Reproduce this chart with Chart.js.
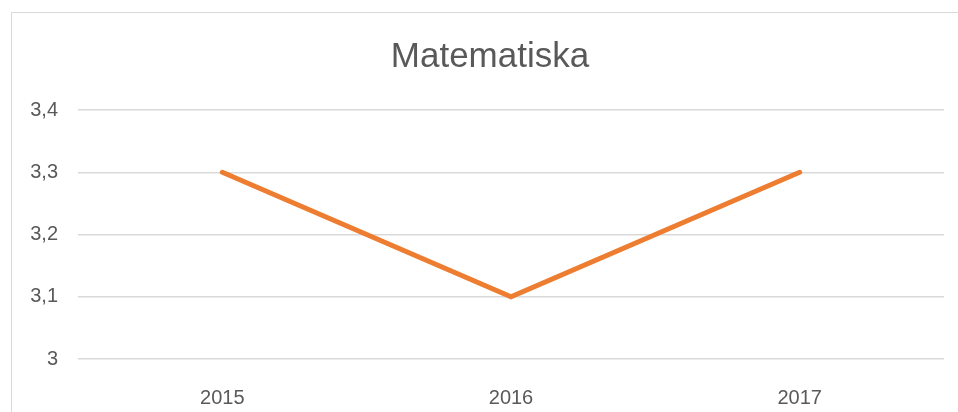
<!DOCTYPE html>
<html>
<head>
<meta charset="utf-8">
<script src="https://cdn.jsdelivr.net/npm/chart.js@4"></script>
<style>
  body { margin: 0; background: #fff; }
  #ram { position: absolute; left: 11px; top: 12px; width: 960px; height: 420px; border: 1px solid #d9d9d9; }
  #graf { position: absolute; left: 0; top: 0; }
</style>
</head>
<body>
<div id="ram"></div>
<canvas id="graf" width="958" height="412"></canvas>
<script>
const ar = ['2015', '2016', '2017'];
const varden = [3.3, 3.1, 3.3];
const yTicks = [3, 3.1, 3.2, 3.3, 3.4];

const textFarg = '#595959';

// flytta titeln lite åt höger, som i originalet
const titelFlytt = {
  id: 'titelFlytt',
  afterLayout: c => { if (c.titleBlock) c.titleBlock.left += 36; }
};

const ctx = document.getElementById('graf');
new Chart(ctx, {
  type: 'line',
  data: {
    labels: ar,
    datasets: [{
      label: 'Matematiska',
      data: varden,
      borderColor: '#ED7D31',
      borderWidth: 5,
      borderCapStyle: 'round',
      borderJoinStyle: 'miter',
      pointRadius: 0,
      tension: 0
    }]
  },
  plugins: [titelFlytt],
  options: {
    responsive: false,
    animation: false,
    layout: { padding: { left: 0, right: 14, top: 0, bottom: 0 } },
    plugins: {
      legend: { display: false },
      tooltip: { enabled: false },
      title: {
        display: true,
        text: 'Matematiska',
        color: textFarg,
        font: { family: 'Liberation Sans', size: 35, weight: 'normal' },
        padding: { top: 36, bottom: 32 }
      }
    },
    scales: {
      x: {
        offset: true,
        grid: { display: false },
        border: { display: false },
        ticks: { color: textFarg, font: { family: 'Liberation Sans', size: 20 }, padding: 19 },
        afterFit: s => { s.height = 53; }
      },
      y: {
        min: 3,
        max: 3.4,
        afterBuildTicks: s => { s.ticks = yTicks.map(v => ({ value: v })); },
        grid: { color: '#d9d9d9', lineWidth: 1.5, drawTicks: false },
        border: { display: false },
        ticks: {
          color: textFarg,
          font: { family: 'Liberation Sans', size: 20 },
          padding: 20,
          callback: v => String(v).replace('.', ',')
        },
        afterFit: s => { s.width = 78; }
      }
    }
  }
});
</script>
</body>
</html>
